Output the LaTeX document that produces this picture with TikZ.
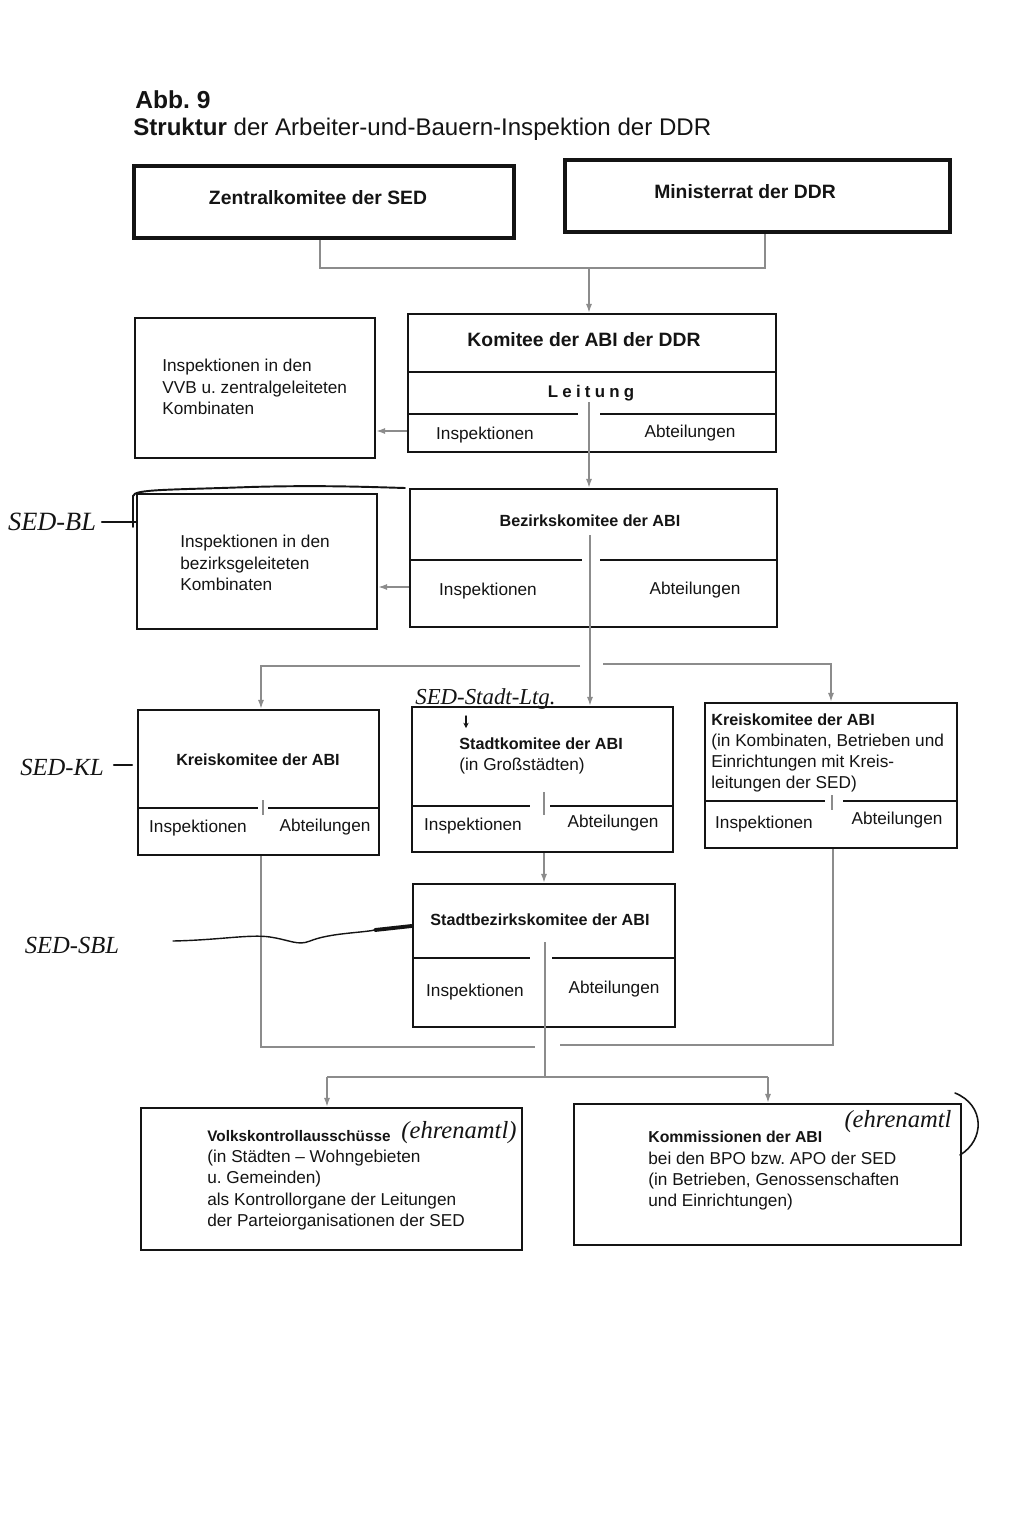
\documentclass[tikz,border=0pt]{standalone}
\usepackage{fontspec}
\setmainfont{Liberation Sans}
\newfontfamily\handfont{Liberation Serif}
\usetikzlibrary{fit,arrows.meta}
\definecolor{ink}{gray}{0.08}
\definecolor{conncol}{gray}{0.55}
\frenchspacing
\tikzset{
  box/.style={draw=ink, line width=1.6pt, inner sep=0pt},
  topbox/.style={box, line width=2.2pt},
  divider/.style={draw=ink, line width=1.3pt},
  conn/.style={draw=conncol, line width=0.7pt},
  arr/.style={conn, -{Latex[length=5pt,width=3.5pt]}},
  bodytxt/.style={inner sep=0pt, text=ink, font=\fontsize{9.8}{12.1}\selectfont},
  boldtxt/.style={inner sep=0pt, text=ink, font=\bfseries\fontsize{9.2}{12.1}\selectfont},
  headtxt/.style={inner sep=0pt, text=ink, font=\bfseries\fontsize{11}{13}\selectfont},
  blocktxt/.style={inner sep=0pt, text=ink, align=left, font=\fontsize{9.8}{12.1}\selectfont},
  hand/.style={inner sep=0pt, text=ink, font=\handfont\itshape\fontsize{14}{16}\selectfont},
  handline/.style={draw=ink, line width=1.1pt, line cap=round}
}
\begin{document}
\begin{tikzpicture}[x=0.02cm,y=-0.02cm]
\useasboundingbox[fill=white] (0,0) rectangle (1024,1522);

% title
\node[anchor=base west, inner sep=0pt, text=ink, font=\bfseries\fontsize{14}{16}\selectfont] (abb) at (135,108) {Abb. 9};
\node[anchor=base west, inner sep=0pt, text=ink, font=\fontsize{13.7}{16}\selectfont] (title) at (133,135) {\textbf{Struktur} der Arbeiter-und-Bauern-Inspektion der DDR};

% boxes
\node[topbox, fit={(134,166) (514,238)}] (zk) {};
\node[topbox, fit={(565,160) (950,232)}] (mr) {};
\node[box, fit={(408,314) (776,452)}] (abi) {};
\node[box, fit={(135,318) (375,458)}] (ins1) {};
\node[box, fit={(410,489) (777,627)}] (bez) {};
\node[box, fit={(137,494) (377,629)}] (ins2) {};
\node[box, fit={(138,710) (379,855)}] (kk1) {};
\node[box, fit={(412,707) (673,852)}] (stk) {};
\node[box, fit={(705,703) (957,848)}] (kk2) {};
\node[box, fit={(413,884) (675,1027)}] (sbk) {};
\node[box, fit={(141,1108) (522,1250)}] (vk) {};
\node[box, fit={(574,1104) (961,1245)}] (kom) {};

% inner dividers
\draw[divider] (408,372) -- (776,372);
\draw[divider] (408,414) -- (578,414);
\draw[divider] (600,414) -- (776,414);
\draw[divider] (410,560) -- (582,560);
\draw[divider] (600,560) -- (777,560);
\draw[divider] (138,808) -- (258,808);
\draw[divider] (268,808) -- (379,808);
\draw[divider] (412,806) -- (530,806);
\draw[divider] (550,806) -- (673,806);
\draw[divider] (705,801) -- (825,801);
\draw[divider] (843,801) -- (957,801);
\draw[divider] (413,958) -- (530,958);
\draw[divider] (552,958) -- (675,958);
\draw[conn] (263,800) -- (263,815);
\draw[conn] (544,792) -- (544,815);
\draw[conn] (832,795) -- (832,810);

% texts
\node[headtxt] (zkt) at (318,198) {Zentralkomitee der SED};
\node[headtxt] (mrt) at (745,192) {Ministerrat der DDR};
\node[headtxt] (abit) at (584,340) {Komitee der ABI der DDR};
\node[boldtxt, font=\bfseries\fontsize{9.6}{12}\selectfont\addfontfeatures{LetterSpace=25}] (leit) at (591,393) {Leitung};
\node[bodytxt] (abii) at (485,435) {Inspektionen};
\node[bodytxt] (abia) at (690,433) {Abteilungen};
\node[blocktxt, anchor=north west] (ins1t) at (162,359) {Inspektionen in den\\VVB u. zentralgeleiteten\\Kombinaten};
\node[boldtxt] (bezt) at (590,521) {Bezirkskomitee der ABI};
\node[bodytxt] (bezi) at (488,591) {Inspektionen};
\node[bodytxt] (beza) at (695,590) {Abteilungen};
\node[blocktxt, anchor=north west] (ins2t) at (180,535) {Inspektionen in den\\bezirksgeleiteten\\Kombinaten};
\node[boldtxt] (kk1t) at (258,760) {Kreiskomitee der ABI};
\node[bodytxt] (kk1i) at (198,828) {Inspektionen};
\node[bodytxt] (kk1a) at (325,827) {Abteilungen};
\node[blocktxt, anchor=north west] (stkt) at (459,737) {{\bfseries\fontsize{9.2}{12.1}\selectfont Stadtkomitee der ABI}\\(in Großstädten)};
\node[bodytxt] (stki) at (473,826) {Inspektionen};
\node[bodytxt] (stka) at (613,823) {Abteilungen};
\node[blocktxt, anchor=north west] (kk2t) at (711,713) {{\bfseries\fontsize{9.2}{12.1}\selectfont Kreiskomitee der ABI}\\(in Kombinaten, Betrieben und\\Einrichtungen mit Kreis-\\leitungen der SED)};
\node[bodytxt] (kk2i) at (764,824) {Inspektionen};
\node[bodytxt] (kk2a) at (897,820) {Abteilungen};
\node[boldtxt] (sbkt) at (540,920) {Stadtbezirkskomitee der ABI};
\node[bodytxt] (sbki) at (475,992) {Inspektionen};
\node[bodytxt] (sbka) at (614,989) {Abteilungen};
\node[blocktxt, anchor=north west] (vkt) at (207,1130) {{\bfseries\fontsize{8.7}{12.1}\selectfont Volkskontrollausschüsse}\\(in Städten -- Wohngebieten\\u. Gemeinden)\\als Kontrollorgane der Leitungen\\der Parteiorganisationen der SED};
\node[blocktxt, anchor=north west] (komt) at (648,1131) {{\bfseries\fontsize{9}{12.1}\selectfont Kommissionen der ABI}\\bei den BPO bzw. APO der SED\\(in Betrieben, Genossenschaften\\und Einrichtungen)};

% connectors
\coordinate (j1) at (320,268);
\coordinate (j2) at (765,268);
\coordinate (jt) at (589,268);
\draw[conn] (zk.south -| j1) -- (j1) -- (j2) -- (mr.south -| j2);
\draw[arr] (jt) -- (abi.north -| jt);
\coordinate (abiV) at (589,402);
\draw[arr] (abiV) -- (bez.north -| abiV);
\coordinate (a1) at (0,431);
\draw[arr] (abi.west |- a1) -- (ins1.east |- a1);
\coordinate (a2) at (0,587);
\draw[arr] (bez.west |- a2) -- (ins2.east |- a2);
\coordinate (bezV) at (590,535);
\draw[arr] (bezV) -- (stk.north -| bezV);
\coordinate (bL0) at (580,666);
\coordinate (bL) at (261,666);
\draw[arr] (bL0) -- (bL) -- (kk1.north -| bL);
\coordinate (bR0) at (603,664);
\coordinate (bR) at (831,664);
\draw[arr] (bR0) -- (bR) -- (kk2.north -| bR);
\coordinate (sx) at (544,0);
\draw[arr] (stk.south -| sx) -- (sbk.north -| sx);
\coordinate (sbV) at (545,942);
\coordinate (cB) at (545,1077);
\draw[conn] (sbV) -- (cB);
\coordinate (k1b) at (261,1047);
\coordinate (k1e) at (535,1047);
\draw[conn] (kk1.south -| k1b) -- (k1b) -- (k1e);
\coordinate (k2b) at (833,1045);
\coordinate (k2e) at (560,1045);
\draw[conn] (kk2.south -| k2b) -- (k2b) -- (k2e);
\coordinate (cL) at (327,1077);
\coordinate (cR) at (768,1077);
\draw[conn] (cL) -- (cR);
\draw[arr] (cL) -- (vk.north -| cL);
\draw[arr] (cR) -- (kom.north -| cR);

% handwritten annotations
\node[hand, font=\handfont\itshape\fontsize{15}{16}\selectfont] (hBL) at (52,522) {SED-BL};
\coordinate (hb1) at (102,522);
\draw[handline, line width=1.4pt] (hb1) -- (ins2.west |- hb1);
\draw[handline] (133,527) -- (133,496) .. controls (134,489) and (170,490) .. (250,487) .. controls (320,485) and (370,487) .. (405,488);
\node[hand] (hKL) at (62,767) {SED-KL};
\coordinate (hk1) at (114,765);
\coordinate (hk2) at (132,765);
\draw[handline, line width=1.4pt] (hk1) -- (hk2);
\node[hand] (hSBL) at (72,945) {SED-SBL};
\draw[handline, line width=0.8pt] (173,941) .. controls (220,940) and (250,934) .. (270,937) .. controls (290,940) and (298,946) .. (310,941) .. controls (330,933) and (360,933) .. (375,930);
\draw[handline, line width=2.2pt] (375,930) -- (sbk.west |- 0,926);
\node[hand, anchor=base west, font=\handfont\itshape\fontsize{13}{15}\selectfont] (hStadt) at (415,704) {SED-Stadt-Ltg.};
\draw[handline, line width=0.8pt, -{Stealth[length=3pt,width=3pt]}] (466,716) -- (466,728);
\node[hand] (hE1) at (459,1133) {(ehrenamtl)};
\node[hand] (hE2) at (898,1122) {(ehrenamtl};
\draw[handline, line width=0.9pt] (955,1093) .. controls (985,1105) and (985,1140) .. (960,1155);
\end{tikzpicture}
\end{document}
